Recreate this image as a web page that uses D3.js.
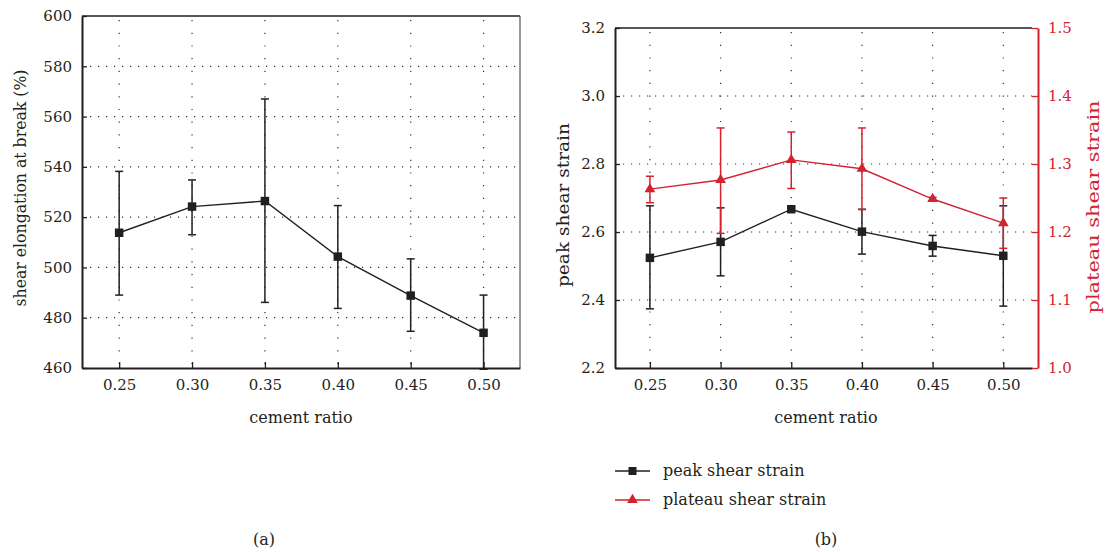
<!DOCTYPE html>
<html>
<head>
<meta charset="utf-8">
<script src="https://cdn.jsdelivr.net/npm/d3@7"></script>
<style>
  body { margin: 0; background: #fff; }
</style>
</head>
<body>
<div id="chart"></div>
<script>
// cement ratio categories
const ratios = [0.25, 0.30, 0.35, 0.40, 0.45, 0.50];
const ratioTicks = ["0.25", "0.30", "0.35", "0.40", "0.45", "0.50"];

// (a) shear elongation at break (%)
const elongation = [513.8, 524.2, 526.4, 504.3, 488.8, 474.0];
const elongationLow = [489.0, 513.0, 486.1, 483.7, 474.6, 459.5];
const elongationHigh = [538.2, 534.8, 567.0, 524.6, 503.4, 489.0];

// (b) peak shear strain (left axis)
const peakStrain = [2.524, 2.571, 2.667, 2.601, 2.559, 2.530];
const peakLow = [2.374, 2.471, 2.667, 2.535, 2.529, 2.382];
const peakHigh = [2.677, 2.671, 2.667, 2.667, 2.590, 2.677];

// (b) plateau shear strain (right axis)
const plateauStrain = [1.263, 1.2765, 1.306, 1.293, 1.2485, 1.213];
const plateauLow = [1.243, 1.198, 1.264, 1.233, 1.246, 1.176];
const plateauHigh = [1.282, 1.353, 1.347, 1.353, 1.251, 1.250];

const width = 1108, height = 552;
const black = "#231f20", red = "#d2232f";
const FONT = "'DejaVu Serif', serif";
const TICK = 15, LABEL = 16;

const svg = d3.select("#chart").append("svg")
    .attr("width", width)
    .attr("height", height)
    .attr("font-family", FONT);

svg.append("rect").attr("width", width).attr("height", height).attr("fill", "#fff");

function fmt(v) { return ratioTicks[ratios.indexOf(v)]; }

function label(sel) {
    return sel.attr("font-family", FONT).attr("font-size", LABEL).attr("fill", black);
}

// rotated axis title, stretched to the length seen in the original
function yTitle(x, cy, len, text, color) {
    return label(svg.append("text"))
        .attr("transform", `translate(${x},${cy}) rotate(-90)`)
        .attr("text-anchor", "middle")
        .attr("textLength", len)
        .attr("lengthAdjust", "spacingAndGlyphs")
        .attr("fill", color || black)
        .text(text);
}

// draws dotted grid, frame and axes for one panel
function panel(x, y, box, yTicks, yFormat) {
    const g = svg.append("g");

    // dotted grid
    g.append("g").selectAll("line")
        .data(yTicks.slice(1, -1))
        .join("line")
        .attr("x1", box.left).attr("x2", box.right)
        .attr("y1", d => y(d)).attr("y2", d => y(d))
        .attr("stroke", "#333").attr("stroke-width", 1.2)
        .attr("stroke-dasharray", "1.2,6.8");
    g.append("g").selectAll("line")
        .data(ratios)
        .join("line")
        .attr("x1", d => x(d)).attr("x2", d => x(d))
        .attr("y1", box.top + 4).attr("y2", box.bottom)
        .attr("stroke", "#333").attr("stroke-width", 1.2)
        .attr("stroke-dasharray", "1.2,11.5");

    // top / right frame
    g.append("line")
        .attr("x1", box.left).attr("x2", box.right)
        .attr("y1", box.top).attr("y2", box.top)
        .attr("stroke", black).attr("stroke-width", 1.3);
    if (box.frameRight) {
        g.append("line")
            .attr("x1", box.right).attr("x2", box.right)
            .attr("y1", box.top).attr("y2", box.bottom)
            .attr("stroke", "#555").attr("stroke-width", 1.2);
    }

    const xAxis = g.append("g")
        .attr("transform", `translate(0,${box.bottom})`)
        .call(d3.axisBottom(x).tickValues(ratios).tickFormat(fmt)
            .tickSizeInner(-6).tickSizeOuter(0).tickPadding(11));
    const yAxis = g.append("g")
        .attr("transform", `translate(${box.left},0)`)
        .call(d3.axisLeft(y).tickValues(yTicks).tickFormat(yFormat)
            .tickSizeInner(-5).tickSizeOuter(0).tickPadding(10));

    [xAxis, yAxis].forEach(a => {
        a.attr("font-family", FONT).attr("font-size", TICK);
        a.select(".domain").attr("stroke", black).attr("stroke-width", 2);
        a.selectAll(".tick line").attr("stroke", black).attr("stroke-width", 1.3);
        a.selectAll("text").attr("fill", black);
    });
    xAxis.selectAll("text").attr("dy", "0.71em");
    return g;
}

function errorBars(g, x, y, vals, lo, hi, color) {
    const data = ratios.map((r, i) => ({ r, v: vals[i], lo: lo[i], hi: hi[i] }));
    const eb = g.append("g").attr("stroke", color).attr("stroke-width", 1.5);
    eb.selectAll(".stem").data(data).join("line")
        .attr("x1", d => x(d.r)).attr("x2", d => x(d.r))
        .attr("y1", d => y(d.lo)).attr("y2", d => y(d.hi));
    eb.selectAll(".capHi").data(data.filter(d => d.hi !== d.lo)).join("line")
        .attr("x1", d => x(d.r) - 4).attr("x2", d => x(d.r) + 4)
        .attr("y1", d => y(d.hi)).attr("y2", d => y(d.hi));
    eb.selectAll(".capLo").data(data.filter(d => d.hi !== d.lo)).join("line")
        .attr("x1", d => x(d.r) - 4).attr("x2", d => x(d.r) + 4)
        .attr("y1", d => y(d.lo)).attr("y2", d => y(d.lo));
    return data;
}

function series(g, x, y, vals, lo, hi, color, symbol, size) {
    const data = errorBars(g, x, y, vals, lo, hi, color);
    g.append("path")
        .datum(data)
        .attr("fill", "none")
        .attr("stroke", color)
        .attr("stroke-width", 1.4)
        .attr("d", d3.line().x(d => x(d.r)).y(d => y(d.v)));
    g.append("g").selectAll("path")
        .data(data)
        .join("path")
        .attr("transform", d => `translate(${x(d.r)},${y(d.v)})`)
        .attr("d", d3.symbol().type(symbol).size(size))
        .attr("fill", color);
}

// ---------- (a) ----------
const boxA = { left: 82, right: 520, top: 16, bottom: 368, frameRight: true };
const xA = d3.scaleLinear().domain([0.2245, 0.525]).range([boxA.left, boxA.right]);
const yA = d3.scaleLinear().domain([460, 600]).range([boxA.bottom, boxA.top]);
const gA = panel(xA, yA, boxA, d3.range(460, 601, 20), d3.format("d"));
series(gA, xA, yA, elongation, elongationLow, elongationHigh, black, d3.symbolSquare, 72);

yTitle(26, 188, 237, "shear elongation at break (%)");
label(svg.append("text"))
    .attr("x", 301).attr("y", 423)
    .attr("text-anchor", "middle")
    .text("cement ratio");
label(svg.append("text"))
    .attr("x", 264).attr("y", 545)
    .attr("text-anchor", "middle")
    .text("(a)");

// ---------- (b) ----------
const boxB = { left: 615, right: 1032, top: 28, bottom: 368, frameRight: false };
const xB = d3.scaleLinear().domain([0.2253, 0.5203]).range([boxB.left, boxB.right]);
const yB = d3.scaleLinear().domain([2.2, 3.2]).range([boxB.bottom, boxB.top]);
const yB2 = d3.scaleLinear().domain([1.0, 1.5]).range([boxB.bottom, boxB.top]);
const gB = panel(xB, yB, boxB, [2.2, 2.4, 2.6, 2.8, 3.0, 3.2], d3.format(".1f"));

// right red axis
const rAxis = svg.append("g")
    .attr("transform", `translate(${boxB.right + 6},0)`)
    .call(d3.axisRight(yB2).tickValues([1.0, 1.1, 1.2, 1.3, 1.4, 1.5]).tickFormat(d3.format(".1f"))
        .tickSizeInner(-6).tickSizeOuter(0).tickPadding(10));
rAxis.attr("font-family", FONT).attr("font-size", TICK);
rAxis.select(".domain").attr("stroke", red).attr("stroke-width", 2);
rAxis.selectAll(".tick line").attr("stroke", red).attr("stroke-width", 1.3);
rAxis.selectAll("text").attr("fill", red);

series(gB, xB, yB, peakStrain, peakLow, peakHigh, black, d3.symbolSquare, 72);
series(gB, xB, yB2, plateauStrain, plateauLow, plateauHigh, red, d3.symbolTriangle, 50);

yTitle(569, 205, 164, "peak shear strain");
yTitle(1099, 207, 213, "plateau shear strain", red);
label(svg.append("text"))
    .attr("x", 826).attr("y", 423)
    .attr("text-anchor", "middle")
    .text("cement ratio");

// legend
const legendItems = [
    { label: "peak shear strain", color: black, symbol: d3.symbolSquare, size: 64, y: 471 },
    { label: "plateau shear strain", color: red, symbol: d3.symbolTriangle, size: 50, y: 500 }
];
const legend = svg.append("g");
legendItems.forEach(it => {
    legend.append("line")
        .attr("x1", 615).attr("x2", 650)
        .attr("y1", it.y).attr("y2", it.y)
        .attr("stroke", it.color).attr("stroke-width", 1.4);
    legend.append("path")
        .attr("transform", `translate(632.5,${it.y})`)
        .attr("d", d3.symbol().type(it.symbol).size(it.size))
        .attr("fill", it.color);
    label(legend.append("text"))
        .attr("x", 663).attr("y", it.y + 5)
        .text(it.label);
});

label(svg.append("text"))
    .attr("x", 826).attr("y", 545)
    .attr("text-anchor", "middle")
    .text("(b)");
</script>
</body>
</html>
